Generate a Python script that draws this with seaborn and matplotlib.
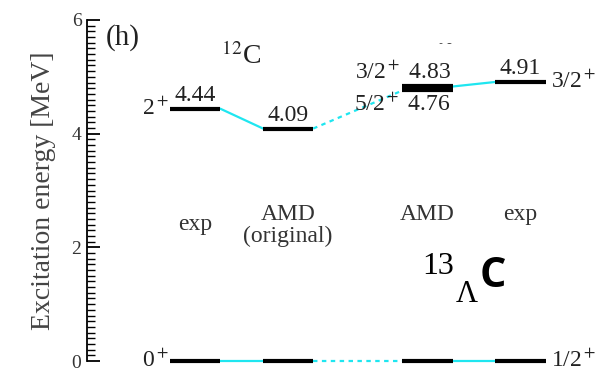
import matplotlib
matplotlib.use("Agg")
import matplotlib.pyplot as plt
import seaborn as sns
import pandas as pd
import numpy as np

# Level scheme columns
columns = ["exp 12C", "AMD original", "AMD 13LC", "exp 13LC"]
column_x = [0.0, 1.0, 2.5, 3.5]
column_titles = ["exp", "AMD\n(original)", "AMD", "exp"]

# Excitation energies [MeV]
ground = [0.0, 0.0, 0.0, 0.0]
excited_12c = [4.44, 4.09]           # 2+ in 12C (exp, AMD original)
excited_amd = [4.83, 4.76]           # 3/2+, 5/2+ in 13_Lambda C (AMD)
excited_exp = [4.91]                 # 3/2+ in 13_Lambda C (exp)

sns.set_theme(style="white")
plt.rcParams["font.family"] = ["Liberation Serif", "DejaVu Serif"]
plt.rcParams["mathtext.fontset"] = "stix"

W, H = 602, 372
fig = plt.figure(figsize=(W / 100, H / 100), dpi=100)
ax = fig.add_axes([87 / W, 11 / H, (W - 87) / W, 341 / H])

half = 0.27

# level segments
rows = []
def level(uid, x, e):
    rows.append({"uid": uid, "x": x - half, "E": e})
    rows.append({"uid": uid, "x": x + half, "E": e})

for i, x in enumerate(column_x):
    level(f"g{i}", x, ground[i])
level("a", column_x[0], excited_12c[0])
level("b", column_x[1], excited_12c[1])
level("c", column_x[2], excited_amd[0])
level("d", column_x[2], excited_amd[1])
level("e", column_x[3], excited_exp[0])
levels = pd.DataFrame(rows)

# connecting lines between columns
crow = []
def link(uid, x0, e0, x1, e1, kind):
    crow.append({"uid": uid, "x": x0 + half, "E": e0, "kind": kind})
    crow.append({"uid": uid, "x": x1 - half, "E": e1, "kind": kind})

link("g01", column_x[0], ground[0], column_x[1], ground[1], "solid")
link("g12", column_x[1], ground[1], column_x[2], ground[2], "dotted")
link("g23", column_x[2], ground[2], column_x[3], ground[3], "solid")
link("x01", column_x[0], excited_12c[0], column_x[1], excited_12c[1], "solid")
link("x12", column_x[1], excited_12c[1], column_x[2], excited_amd[1], "dotted")
link("x23", column_x[2], excited_amd[0], column_x[3], excited_exp[0], "solid")
links = pd.DataFrame(crow)

cyan = "#1fe6f0"
for kind, ls in [("solid", "-"), ("dotted", (0, (2, 2)))]:
    sub = links[links["kind"] == kind]
    sns.lineplot(data=sub, x="x", y="E", units="uid", estimator=None,
                 color=cyan, linewidth=1.6, linestyle=ls, ax=ax, legend=False)

sns.lineplot(data=levels, x="x", y="E", units="uid", estimator=None,
             color="black", linewidth=3.0, solid_capstyle="butt", ax=ax,
             legend=False)
for ln in ax.lines:
    ln.set_clip_on(False)

ax.set_xlim(-1.163, 4.376)
ax.set_ylim(0, 6)
ax.set_xlabel("")
ax.set_xticks([])
for s in ["top", "right", "bottom"]:
    ax.spines[s].set_visible(False)
ax.spines["left"].set_color("black")
ax.spines["left"].set_linewidth(1.3)
ax.set_yticks([0, 2, 4, 6])
ax.set_yticks(np.arange(0, 6.01, 0.1), minor=True)
ax.tick_params(axis="y", which="major", direction="in", length=9, width=1.3,
               labelsize=14, pad=4, left=True, colors="black", labelcolor="#333333")
ax.tick_params(axis="y", which="minor", direction="in", length=6, width=1.0,
               left=True, color="black")
ax.set_ylabel("Excitation energy [MeV]", fontsize=20, color="#444444",
              labelpad=11)
ax.patch.set_alpha(0)

fs = 17
def above(x, e, s, dx=0):
    ax.annotate(s, (x, e), xytext=(dx, 2), textcoords="offset points",
                ha="center", va="bottom", fontsize=fs, color="#222222")

def below(x, e, s, dx=0):
    ax.annotate(s, (x, e), xytext=(dx, -2), textcoords="offset points",
                ha="center", va="top", fontsize=fs, color="#222222")

def left_of(x, e, s):
    ax.annotate(s, (x - half, e), xytext=(-1, 0), textcoords="offset points",
                ha="right", va="center", fontsize=fs, color="#222222")

def right_of(x, e, s):
    ax.annotate(s, (x + half, e), xytext=(4, 0), textcoords="offset points",
                ha="left", va="center", fontsize=fs, color="#222222")

above(column_x[0], excited_12c[0], f"{excited_12c[0]:.2f}")
left_of(column_x[0], excited_12c[0], r"2$^+$")
above(column_x[1], excited_12c[1], f"{excited_12c[1]:.2f}")
above(column_x[2], excited_amd[0], r"3/2$^+$ " + f"{excited_amd[0]:.2f}", dx=-18)
below(column_x[2], excited_amd[1], r"5/2$^+$ " + f"{excited_amd[1]:.2f}", dx=-18)
above(column_x[3], excited_exp[0], f"{excited_exp[0]:.2f}")
right_of(column_x[3], excited_exp[0], r"3/2$^+$")
left_of(column_x[0], ground[0], r"0$^+$")
right_of(column_x[3], ground[3], r"1/2$^+$")

# column titles
title_y = [2.58, 2.76, 2.76, 2.76]
for x, t, ty in zip(column_x, column_titles, title_y):
    ax.text(x, ty, t, ha="center", va="top", fontsize=fs, color="#333333",
            linespacing=1.05)

def px(x, y):
    return x / W, 1 - y / H

fig.text(*px(106, 38), "(h)", fontsize=21, ha="left", va="center", color="#222222")
fig.text(*px(221, 56), r"$^{12}$C", fontsize=20, ha="left", va="center",
         color="#222222")

# nucleus label near the top, partly masked
fig.text(*px(438, 47), r"$_{\Lambda}$C", fontsize=19, ha="left", va="bottom",
         color="#222222")
fig.patches.append(plt.Rectangle(px(415, 42), 90 / W, 30 / H,
                                 transform=fig.transFigure, color="white",
                                 zorder=5))

# large nucleus label
fig.text(*px(422, 274), "13", fontsize=23, ha="left", va="baseline", color="black")
fig.text(*px(456, 302), "Λ", fontsize=22, ha="left", va="baseline", color="black")
fig.text(*px(480, 287), "C", fontsize=30, ha="left", va="baseline",
         color="black", family="Open Sans", fontweight="bold")

fig.savefig("out.png", dpi=100, facecolor="white")
